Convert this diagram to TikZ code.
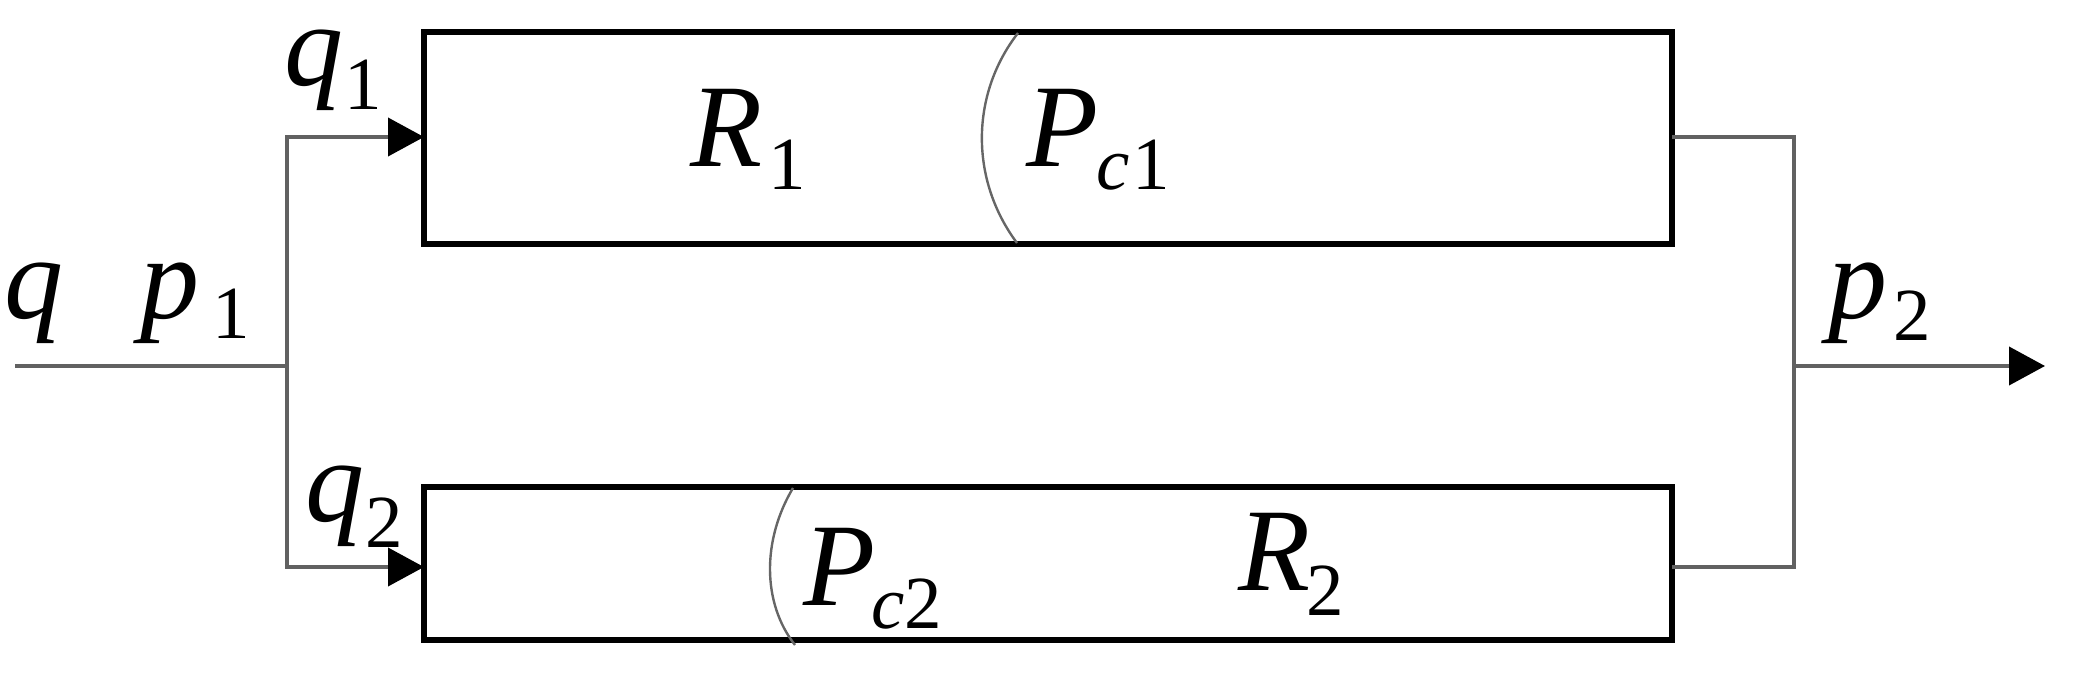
\documentclass[tikz,border=0pt]{standalone}
\usepackage{fontspec}
\setmainfont{Liberation Serif}
\usetikzlibrary{arrows.meta}
\begin{document}
\begin{tikzpicture}[x=0.5pt,y=-0.5pt,
  blockbox/.style={draw=black,line width=3.2pt,inner sep=0pt,outer sep=0pt,minimum width=624pt},
  conn/.style={draw=black!62,line width=2pt},
  tipa/.tip={Triangle[length=18pt,width=19pt,color=black]},
  arcline/.style={draw=black!60,line width=1.2pt},
  mainlab/.style={inner sep=0pt,anchor=base west,font=\fontsize{59pt}{60pt}\selectfont\itshape},
  lowlab/.style={mainlab,text height=0.46em},
  sublab/.style={inner sep=0pt,anchor=base west,font=\fontsize{37.5pt}{40pt}\selectfont},
  subit/.style={inner sep=0pt,anchor=base west,font=\fontsize{37.5pt}{40pt}\selectfont\itshape}]
\useasboundingbox (0,0) rectangle (2077,679);
% blocks
\node[blockbox,minimum height=106pt] (top) at (1048,138) {};
\node[blockbox,minimum height=76.5pt] (bot) at (1048,563.5) {};
% junction coordinates
\coordinate (in) at (15,366);
\coordinate (jm) at (287,366);
\coordinate (jt) at (287,137);
\coordinate (jb) at (287,567);
\coordinate (kt) at (1794,137);
\coordinate (km) at (1794,366);
\coordinate (kb) at (1794,567);
\coordinate (out) at (2045,366);
% connectors
\draw[conn] (in) -- (jm);
\draw[conn,tipa-tipa] (top.west |- jt) -- (jt) -- (jb) -- (bot.west |- jb);
\draw[conn] (top.east |- kt) -- (kt) -- (kb) -- (bot.east |- kb);
\draw[conn,-tipa] (km) -- (out);
% arcs
\draw[arcline] (1018,33) .. controls (970,95) and (970,180) .. (1017,243);
\draw[arcline] (793,488) .. controls (762,540) and (762,603) .. (795,645);
% labels
\node[lowlab] (lq) at (4,318) {q};
\node[lowlab] (lp1) at (140,318) {p};
\node[sublab] (lp1s) at (212,338) {1};
\node[lowlab] (lq1) at (284,86) {q};
\node[sublab] (lq1s) at (344,110) {1};
\node[lowlab] (lq2) at (305,521) {q};
\node[sublab] (lq2s) at (365,547) {2};
\node[mainlab] (lR1) at (690,167) {R};
\node[sublab] (lR1s) at (768,190) {1};
\node[mainlab] (lP1) at (1026,167) {P};
\node[subit] (lP1c) at (1096,190) {c};
\node[sublab] (lP1s) at (1132,190) {1};
\node[mainlab] (lP2) at (803,605) {P};
\node[subit] (lP2c) at (871,628) {c};
\node[sublab] (lP2s) at (904,628) {2};
\node[mainlab] (lR2) at (1238,590) {R};
\node[sublab] (lR2s) at (1306,615) {2};
\node[lowlab] (lp2) at (1828,318) {p};
\node[sublab] (lp2s) at (1893,340) {2};
\end{tikzpicture}
\end{document}
